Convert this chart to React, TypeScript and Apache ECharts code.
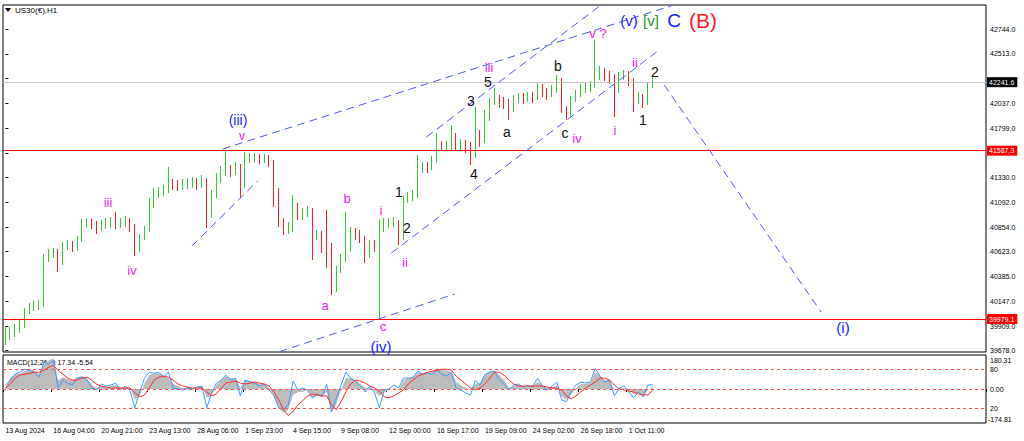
import React, { useEffect, useRef } from "react";
import * as echarts from "echarts";

// ---------- DATA ----------
const symbolTitle = "US30(€),H1";
const macdTitle = "MACD(12,26,9) 17.34 -5.54";

const timeLabels = [
  "13 Aug 2024", "16 Aug 04:00", "20 Aug 21:00", "23 Aug 13:00", "28 Aug 06:00",
  "1 Sep 23:00", "4 Sep 15:00", "9 Sep 08:00", "12 Sep 00:00", "16 Sep 17:00",
  "19 Sep 09:00", "24 Sep 02:00", "26 Sep 18:00", "1 Oct 11:00",
];
const priceTicks = [42744, 42513, 42275, 42037, 41799, 41561, 41330, 41092, 40854, 40623, 40385, 40147, 39909, 39678];
// labels hidden under the price tags in the reference
const hiddenPriceLabels = [42275, 41561];

const firstOpen = 39778;
const closes = [
  39826, 39845, 39874, 39922, 40046, 40094, 40103, 40113, 40562, 40591,
  40619, 40524, 40677, 40696, 40657, 40734, 40887, 40906, 40887, 40849,
  40877, 40896, 40906, 40887, 40906, 40916, 40868, 40638, 40763, 40830,
  41068, 41183, 41193, 41212, 41279, 41260, 41250, 41269, 41279, 41288,
  41269, 41307, 40973, 41164, 41307, 41384, 41403, 41384, 41432, 41260,
  41518, 41518, 41527, 41498, 41518, 41479, 41212, 40906, 40830, 40849,
  41068, 40973, 41002, 41021, 40782, 40791, 40734, 40686, 40275, 40447,
  40562, 40638, 40810, 40782, 40753, 40591, 40686, 40657, 40849, 40877,
  40906, 40906, 40753, 41116, 41145, 41164, 41403, 41441, 41422, 41498,
  41642, 41623, 41632, 41737, 41642, 41651, 41613, 41546, 41737, 41690,
  41900, 42053, 42091, 42053, 42043, 41976, 42072, 42100, 42081, 42110,
  42091, 42186, 42148, 42120, 42167, 42263, 41976, 41928, 42072, 42120,
  42186, 42186, 42206, 42311, 42339, 42301, 42282, 42167, 42301, 42320,
  42263, 42091, 42110, 42043, 42206, 42241.6,
];
const highs = [
  39912, 39903, 39931, 39969, 40084, 40132, 40151, 40161, 40600, 40648,
  40657, 40648, 40715, 40734, 40724, 40772, 40935, 40944, 40935, 40916,
  40925, 40944, 40954, 41002, 40944, 40963, 40944, 40887, 40791, 40868,
  41135, 41231, 41240, 41260, 41432, 41317, 41307, 41317, 41326, 41336,
  41326, 41355, 41326, 41212, 41374, 41441, 41590, 41451, 41479, 41460,
  41575, 41565, 41565, 41556, 41556, 41546, 41498, 41231, 40944, 40906,
  41164, 41088, 41040, 41059, 41040, 40830, 40820, 41021, 40705, 40486,
  40600, 41002, 40858, 40849, 40830, 40772, 40734, 40734, 40925, 40944,
  40944, 40954, 40925, 41154, 41193, 41212, 41546, 41479, 41479, 41537,
  41756, 41680, 41680, 41833, 41756, 41699, 41690, 41670, 42005, 41785,
  41976, 42091, 42186, 42120, 42100, 42081, 42120, 42139, 42139, 42148,
  42148, 42234, 42225, 42186, 42215, 42311, 42282, 42014, 42110, 42167,
  42225, 42234, 42253, 42645, 42397, 42378, 42349, 42320, 42339, 42359,
  42349, 42282, 42148, 42129, 42244, 42292,
];
const lows = [
  39731, 39778, 39807, 39845, 39893, 40027, 40055, 40065, 40094, 40524,
  40562, 40428, 40495, 40638, 40619, 40629, 40715, 40849, 40839, 40791,
  40820, 40839, 40849, 40839, 40849, 40858, 40810, 40581, 40619, 40734,
  40810, 41040, 41135, 41154, 41183, 41212, 41202, 41212, 41221, 41231,
  41212, 41231, 40849, 40944, 41135, 41279, 41346, 41336, 41355, 41135,
  41231, 41470, 41479, 41460, 41470, 41432, 41049, 40858, 40782, 40791,
  40810, 40925, 40925, 40954, 40543, 40734, 40610, 40466, 40208, 40237,
  40419, 40524, 40619, 40734, 40705, 40514, 40562, 40619, 39979, 40810,
  40849, 40858, 40686, 40734, 41088, 41107, 41135, 41374, 41374, 41403,
  41470, 41584, 41584, 41594, 41594, 41594, 41565, 41451, 41518, 41623,
  41661, 41871, 42024, 41995, 41986, 41881, 41957, 42043, 42034, 42053,
  42043, 42072, 42100, 42072, 42100, 42139, 41948, 41881, 41909, 42053,
  42100, 42139, 42148, 42186, 42263, 42253, 42225, 41909, 42139, 42263,
  42206, 41957, 42034, 41995, 42024, 42186,
];

const currentPrice = 42241.6;
const resistanceLevel = 41587.3;
const supportLevel = 39979.1;

const macdHist = [
  4, 44, 60, 64, 72, 76, 76, 60, 104, 116,
  124, 36, 48, 40, 36, 48, 52, 44, 16, 4,
  12, 8, 12, 16, 4, 8, 4, -44, -28, 24,
  56, 64, 64, 56, 44, 20, 12, 4, 4, 4,
  4, 12, -36, -24, 16, 36, 52, 44, 44, 4,
  36, 32, 28, 20, 16, 4, -28, -76, -96, -84,
  -24, -12, -12, -4, -36, -28, -28, -12, -92, -64,
  -4, 44, 44, 36, 20, 4, 4, -8, -28, -12,
  -4, 4, -4, 36, 44, 48, 68, 64, 68, 68,
  84, 76, 76, 68, 28, 16, 4, -4, 20, 24,
  56, 72, 76, 56, 36, 4, 12, 16, 12, 12,
  12, 28, 16, 4, 8, 12, -28, -44, -20, 4,
  20, 20, 24, 68, 52, 36, 32, -4, 4, 4,
  -4, -20, -16, -28, -4, 12,
];
const macdMain = [
  16, 36, 60, 68, 80, 76, 68, 48, 108, 100,
  116, 4, 36, 24, 16, 44, 48, 36, 4, -4,
  20, 12, 16, 24, -4, 12, -8, -76, -12, 44,
  68, 64, 68, 48, 68, 4, 0, -4, 4, 0,
  8, 12, -76, -16, 24, 36, 56, 36, 44, -28,
  36, 28, 24, 12, 20, -4, -28, -76, -84, -64,
  32, -4, 4, -4, -36, -20, -32, 20, -92, -36,
  16, 68, 44, 32, 12, -12, 12, -16, -76, -4,
  0, 16, 4, 44, 44, 48, 72, 60, 64, 60,
  76, 60, 52, 68, 4, -4, -16, -24, 36, 16,
  60, 68, 72, 36, 20, -4, 16, 20, 8, 12,
  12, 44, 12, -4, 12, 28, -44, -52, -12, 16,
  28, 24, 28, 84, 52, 28, 36, -28, 4, 12,
  -12, -36, -12, -32, 16, 17.34,
];
const macdSignal = [
  4, 20, 44, 56, 60, 64, 68, 68, 76, 88,
  96, 76, 60, 44, 36, 36, 44, 48, 36, 20,
  12, 8, 4, 4, 4, 4, 4, -16, -32, -24,
  4, 36, 48, 52, 48, 36, 20, 12, 8, 4,
  4, 4, -12, -28, -20, 4, 24, 28, 32, 24,
  20, 24, 28, 24, 20, 12, -12, -44, -84, -108,
  -92, -64, -48, -28, -20, -24, -28, -28, -64, -84,
  -52, -12, 20, 36, 32, 24, 12, 4, -8, -32,
  -36, -28, -16, -4, 20, 36, 52, 60, 68, 72,
  76, 80, 80, 76, 52, 36, 20, 4, -4, 4,
  20, 44, 68, 68, 56, 36, 20, 12, 12, 12,
  12, 12, 12, 8, 4, 4, -4, -28, -40, -28,
  -12, 4, 16, 28, 44, 44, 36, 16, 0, -4,
  -8, -12, -20, -24, -24, -5.54,
];
const macdLevels = [80, 0, -80];
const macdLevelLabels = ["80", "0.00", "20"];
const macdScaleTop = "180.31";
const macdScaleBottom = "-174.81";

// trend lines: [barIndex, price] pairs
const trendLines = [
  [[45.3, 41603], [139.1, 42975]],
  [[87.8, 41718], [124.1, 42975]],
  [[80.5, 40610], [135.8, 42530]],
  [[57.2, 39668], [93.7, 40218]],
  [[38.9, 40677], [52.6, 41298]],
  [[137.4, 42215], [170.1, 40046]],
];

// Elliott wave annotations (pixel placement)
const MAG = "#f01ef0";
const BLU = "#2020ff";
const BLK = "#111111";
const waveLabels = [
  { t: "(iii)", x: 238, y: 120, c: BLU, s: 14 },
  { t: "v", x: 242, y: 136, c: MAG, s: 12 },
  { t: "iii", x: 108, y: 202, c: MAG, s: 13 },
  { t: "iv", x: 132, y: 270, c: MAG, s: 13 },
  { t: "a", x: 325, y: 305, c: MAG, s: 13 },
  { t: "b", x: 347, y: 198, c: MAG, s: 13 },
  { t: "i", x: 381, y: 210, c: MAG, s: 13 },
  { t: "ii", x: 405, y: 262, c: MAG, s: 13 },
  { t: "c", x: 383, y: 326, c: MAG, s: 13 },
  { t: "(iv)", x: 381, y: 346, c: BLU, s: 15 },
  { t: "1", x: 399, y: 192, c: BLK, s: 14 },
  { t: "2", x: 407, y: 228, c: BLK, s: 14 },
  { t: "3", x: 471, y: 101, c: BLK, s: 14 },
  { t: "4", x: 474, y: 174, c: BLK, s: 14 },
  { t: "5", x: 488, y: 82, c: BLK, s: 14 },
  { t: "iii", x: 489, y: 67, c: MAG, s: 13 },
  { t: "a", x: 507, y: 132, c: BLK, s: 14 },
  { t: "b", x: 558, y: 66, c: BLK, s: 14 },
  { t: "c", x: 565, y: 133, c: BLK, s: 14 },
  { t: "iv", x: 577, y: 138, c: MAG, s: 13 },
  { t: "v ?", x: 598, y: 33, c: MAG, s: 13 },
  { t: "i", x: 615, y: 130, c: MAG, s: 13 },
  { t: "ii", x: 635, y: 62, c: MAG, s: 13 },
  { t: "1", x: 643, y: 120, c: BLK, s: 14 },
  { t: "2", x: 655, y: 72, c: BLK, s: 14 },
  { t: "(v)", x: 629, y: 20, c: BLU, s: 15 },
  { t: "[v]", x: 651, y: 20, c: "#2a962a", s: 15 },
  { t: "C", x: 674, y: 20, c: BLU, s: 19 },
  { t: "(B)", x: 703, y: 20, c: "#ff1a1a", s: 21 },
  { t: "(i)", x: 843, y: 327, c: BLU, s: 15 },
];

const TOTAL_SLOTS = 205;
const LABEL_EVERY = 10;
const FONT = "'Liberation Sans', Arial, sans-serif";

export default function App() {
  const ref = useRef<HTMLDivElement>(null);

  useEffect(() => {
    const el = ref.current;
    if (!el) return;
    const chart = echarts.init(el, null, { renderer: "svg" });

    const slots = Array.from({ length: TOTAL_SLOTS }, (_, i) => String(i));
    const candleData = closes.map((c, i) => [i === 0 ? firstOpen : closes[i - 1], c, lows[i], highs[i]]);
    const showTick = (i: number) => i % LABEL_EVERY === 0 && i / LABEL_EVERY < timeLabels.length;
    const visiblePriceLabels = priceTicks.filter((p) => hiddenPriceLabels.indexOf(p) < 0);

    const hline = (v: number, color: string, tagBg: string, text: string) => ({
      yAxis: v,
      lineStyle: { color, width: 1, type: "solid" },
      label: {
        show: true,
        position: "end",
        formatter: text,
        backgroundColor: tagBg,
        color: "#fff",
        fontSize: 7,
        fontFamily: FONT,
        padding: [2, 3, 1, 2],
        distance: 1,
      },
    });

    const trendSeries = trendLines.map((pts) => ({
      type: "line",
      xAxisIndex: 2,
      yAxisIndex: 0,
      data: pts,
      showSymbol: false,
      symbol: "none",
      silent: true,
      lineStyle: { color: "#4b5cf2", width: 1, type: [8, 5] },
      z: 5,
    }));

    const option: any = {
      animation: false,
      backgroundColor: "#ffffff",
      grid: [
        { left: 3, right: 38, top: 5, height: 347, show: true, borderColor: "#000", borderWidth: 1, backgroundColor: "transparent" },
        { left: 3, right: 38, top: 355, height: 68, show: true, borderColor: "#000", borderWidth: 1, backgroundColor: "transparent" },
      ],
      xAxis: [
        { type: "category", gridIndex: 0, data: slots, show: false, boundaryGap: true },
        {
          type: "category",
          gridIndex: 1,
          data: slots,
          boundaryGap: true,
          axisLine: { show: false },
          splitLine: { show: false },
          axisTick: { show: true, length: 3, lineStyle: { color: "#000" }, interval: (i: number) => showTick(i) },
          axisLabel: {
            interval: (i: number) => showTick(i),
            formatter: (v: string) => {
              const i = Number(v);
              return showTick(i) ? timeLabels[i / LABEL_EVERY] : "";
            },
            fontSize: 7,
            fontFamily: FONT,
            color: "#000",
            align: "left",
            margin: 4,
          },
        },
        { type: "value", gridIndex: 0, min: -0.5, max: TOTAL_SLOTS - 0.5, show: false },
      ],
      yAxis: [
        {
          type: "value",
          gridIndex: 0,
          position: "right",
          min: 39664,
          max: 42979,
          axisLine: { show: false },
          splitLine: { show: false },
          axisTick: { show: true, length: 3, lineStyle: { color: "#000" }, customValues: priceTicks },
          axisLabel: {
            customValues: visiblePriceLabels,
            formatter: (v: number) => v.toFixed(1),
            fontSize: 7,
            fontFamily: FONT,
            color: "#000",
            margin: 4,
          },
        },
        {
          type: "value",
          gridIndex: 1,
          position: "right",
          min: -138,
          max: 138,
          axisLine: { show: false },
          splitLine: { show: false },
          axisTick: { show: false, customValues: macdLevels },
          axisLabel: {
            customValues: macdLevels,
            formatter: (v: number) => {
              const k = macdLevels.indexOf(v);
              return k >= 0 ? macdLevelLabels[k] : "";
            },
            fontSize: 7,
            fontFamily: FONT,
            color: "#000",
            margin: 4,
          },
        },
      ],
      series: [
        {
          type: "candlestick",
          xAxisIndex: 0,
          yAxisIndex: 0,
          data: candleData,
          barWidth: 1,
          itemStyle: {
            color: "#35c835",
            color0: "#ff2020",
            borderColor: "#35c835",
            borderColor0: "#ff2020",
            borderWidth: 1,
          },
          markLine: {
            symbol: ["none", "none"],
            silent: true,
            animation: false,
            data: [
              hline(currentPrice, "#c8c8c8", "#000000", currentPrice.toFixed(1)),
              hline(resistanceLevel, "#ff0000", "#ff0000", resistanceLevel.toFixed(1)),
              hline(supportLevel, "#ff0000", "#ff0000", supportLevel.toFixed(1)),
            ],
          },
        },
        ...trendSeries,
        {
          type: "line",
          xAxisIndex: 1,
          yAxisIndex: 1,
          data: macdHist,
          showSymbol: false,
          symbol: "none",
          lineStyle: { width: 0 },
          areaStyle: { color: "#bcbcbc", origin: 0, opacity: 1 },
          z: 1,
        },
        {
          type: "line",
          xAxisIndex: 1,
          yAxisIndex: 1,
          data: macdMain,
          showSymbol: false,
          symbol: "none",
          lineStyle: { width: 1, color: "#3c9cff" },
          z: 3,
          markLine: {
            symbol: ["none", "none"],
            silent: true,
            label: { show: false },
            lineStyle: { color: "#ff5050", width: 1, type: [3, 3] },
            data: macdLevels.map((v) => ({ yAxis: v })),
          },
        },
        {
          type: "line",
          xAxisIndex: 1,
          yAxisIndex: 1,
          data: macdSignal,
          showSymbol: false,
          symbol: "none",
          lineStyle: { width: 1, color: "#ff2a2a" },
          z: 4,
        },
      ],
      graphic: [
        { type: "polygon", shape: { points: [[5, 8], [11, 8], [8, 12]] }, style: { fill: "#000" } },
        { type: "text", x: 15, y: 10, style: { text: symbolTitle, fill: "#000", fontSize: 8, fontFamily: FONT, verticalAlign: "middle" } },
        { type: "text", x: 7, y: 362, style: { text: macdTitle, fill: "#000", fontSize: 7, fontFamily: FONT, verticalAlign: "middle" } },
        { type: "text", x: 990, y: 360, style: { text: macdScaleTop, fill: "#000", fontSize: 7, fontFamily: FONT, verticalAlign: "middle" } },
        { type: "text", x: 988, y: 419, style: { text: macdScaleBottom, fill: "#000", fontSize: 7, fontFamily: FONT, verticalAlign: "middle" } },
        ...waveLabels.map((w) => ({
          type: "text",
          x: w.x,
          y: w.y,
          z: 10,
          style: { text: w.t, fill: w.c, fontSize: w.s, fontFamily: FONT, align: "center", verticalAlign: "middle" },
        })),
      ],
    };

    chart.setOption(option);
    return () => chart.dispose();
  }, []);

  return (
    <div
      ref={ref}
      style={{ position: "fixed", left: 0, top: 0, width: 1024, height: 441, background: "#fff" }}
    />
  );
}
